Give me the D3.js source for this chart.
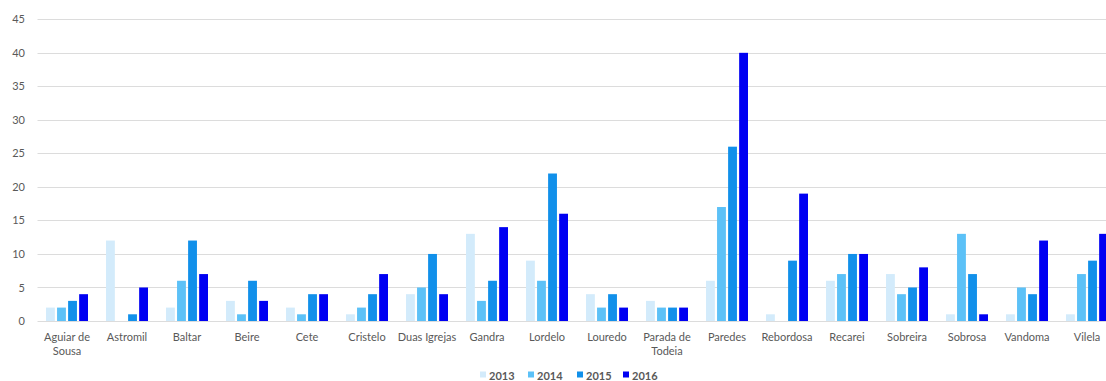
<!DOCTYPE html>
<html>
<head>
<meta charset="utf-8">
<script src="https://cdn.jsdelivr.net/npm/d3@7"></script>
<style>
  html, body { margin: 0; padding: 0; background: #ffffff; }
  svg { display: block; font-family: Lato, "Open Sans", sans-serif; }
</style>
</head>
<body>
<svg id="chart" width="1106" height="381"></svg>
<script>
// Freguesias (parishes) on the x axis
const categories = [
  "Aguiar de Sousa", "Astromil", "Baltar", "Beire", "Cete", "Cristelo",
  "Duas Igrejas", "Gandra", "Lordelo", "Louredo", "Parada de Todeia",
  "Paredes", "Rebordosa", "Recarei", "Sobreira", "Sobrosa", "Vandoma", "Vilela"
];
const years = ["2013", "2014", "2015", "2016"];

// Counts per parish, one array per year
const values2013 = [2, 12, 2, 3, 2, 1, 4, 13, 9, 4, 3, 6, 1, 6, 7, 1, 1, 1];
const values2014 = [2, 0, 6, 1, 1, 2, 5, 3, 6, 2, 2, 17, 0, 7, 4, 13, 5, 7];
const values2015 = [3, 1, 12, 6, 4, 4, 10, 6, 22, 4, 2, 26, 9, 10, 5, 7, 4, 9];
const values2016 = [4, 5, 7, 3, 4, 7, 4, 14, 16, 2, 2, 40, 19, 10, 8, 1, 12, 13];

const yTicks = [0, 5, 10, 15, 20, 25, 30, 35, 40, 45];
const colors = ["#d3ebfb", "#5cc1f7", "#1190ea", "#0000f2"];

const series = [values2013, values2014, values2015, values2016];
const rows = categories.map((c, i) => ({
  name: c,
  vals: years.map((y, k) => ({ year: y, k, value: series[k][i] }))
}));

const svg = d3.select("#chart");
const x = d3.scaleBand().domain(categories).range([37, 1117]).paddingInner(0).paddingOuter(0);
const xi = d3.scaleBand().domain(years).range([-21, 21]).paddingInner(0.2).paddingOuter(0);
const y = d3.scaleLinear().domain([0, 45]).range([321, 19.3]);

// horizontal gridlines
svg.append("g")
  .selectAll("line")
  .data(yTicks)
  .join("line")
  .attr("x1", 37.5)
  .attr("x2", 1106)
  .attr("y1", d => Math.round(y(d)) + 0.5)
  .attr("y2", d => Math.round(y(d)) + 0.5)
  .attr("stroke", "#dcdcdc")
  .attr("stroke-width", 1);

// y axis labels
const yAxis = d3.axisLeft(y).tickValues(yTicks).tickSize(0).tickPadding(0);
const gy = svg.append("g").attr("transform", "translate(25,0)").call(yAxis);
gy.select(".domain").remove();
gy.selectAll("text")
  .attr("fill", "#595959")
  .style("font-size", "11px")
  .style("font-family", "Lato, 'Open Sans', sans-serif");

// bars
const groups = svg.append("g")
  .selectAll("g")
  .data(rows)
  .join("g")
  .attr("transform", d => `translate(${x(d.name) + x.bandwidth() / 2},0)`);

groups.selectAll("rect")
  .data(d => d.vals)
  .join("rect")
  .attr("x", d => xi(d.year))
  .attr("width", xi.bandwidth())
  .attr("y", d => y(d.value))
  .attr("height", d => y(0) - y(d.value))
  .attr("fill", d => colors[d.k]);

// category labels, names with " de " wrap onto two lines
const labels = svg.append("g")
  .selectAll("text")
  .data(categories)
  .join("text")
  .attr("x", d => x(d) + x.bandwidth() / 2)
  .attr("y", 341)
  .attr("text-anchor", "middle")
  .attr("fill", "#595959")
  .style("font-size", "11px");

labels.each(function (d) {
  const m = d.match(/^(.* de) (.*)$/);
  const lines = m ? [m[1], m[2]] : [d];
  d3.select(this).selectAll("tspan")
    .data(lines)
    .join("tspan")
    .attr("x", x(d) + x.bandwidth() / 2)
    .attr("dy", (l, i) => i === 0 ? 0 : 14)
    .text(l => l);
});

// legend
const legend = svg.append("g").attr("transform", "translate(0,380)");
const legendX = [480, 528, 577, 623];
years.forEach((yr, k) => {
  const g = legend.append("g").attr("transform", `translate(${legendX[k]},0)`);
  g.append("rect")
    .attr("x", 0).attr("y", -8.5)
    .attr("width", 6).attr("height", 6)
    .attr("fill", colors[k]);
  g.append("text")
    .attr("x", 9).attr("y", 0)
    .attr("fill", "#595959")
    .style("font-size", "11px")
    .style("font-weight", "bold")
    .text(yr);
});
</script>
</body>
</html>
